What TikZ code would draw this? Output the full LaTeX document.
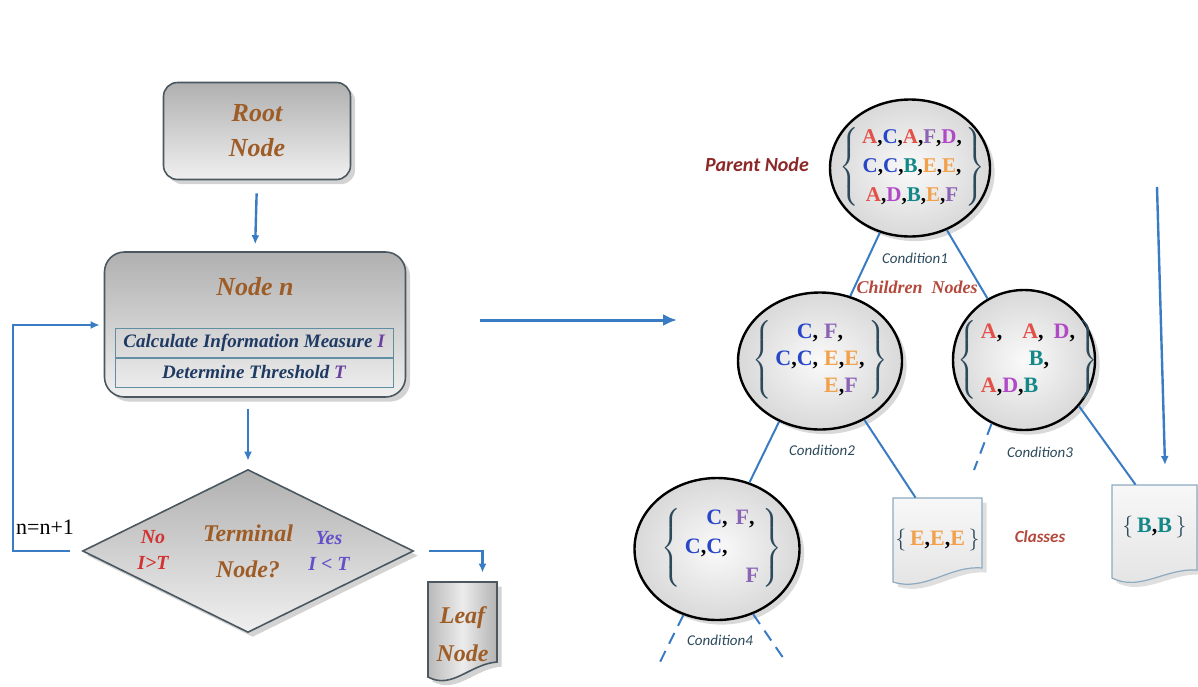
\documentclass[tikz,border=0pt]{standalone}
\usepackage{fontspec}
\setmainfont{Liberation Serif}
\newfontfamily\calfont{Carlito}
\usepackage{amsmath}
\usetikzlibrary{shapes.geometric,shadows,arrows.meta,positioning,calc}

\definecolor{flowblue}{RGB}{58,124,195}
\definecolor{boxedge}{RGB}{75,88,96}
\definecolor{rowedge}{RGB}{95,143,160}
\definecolor{brownt}{RGB}{158,92,38}
\definecolor{navyt}{RGB}{30,58,98}
\definecolor{purplet}{RGB}{106,64,160}
\definecolor{redno}{RGB}{210,50,50}
\definecolor{yesblue}{RGB}{100,80,200}
\definecolor{labred}{RGB}{140,40,40}
\definecolor{condcol}{RGB}{44,74,92}
\definecolor{kidred}{RGB}{180,72,60}
\definecolor{docedge}{RGB}{140,170,192}
\definecolor{clsA}{RGB}{226,80,72}
\definecolor{clsB}{RGB}{20,135,135}
\definecolor{clsC}{RGB}{40,70,200}
\definecolor{clsD}{RGB}{176,72,200}
\definecolor{clsE}{RGB}{242,160,74}
\definecolor{clsF}{RGB}{140,100,180}

\newcommand{\kA}{\textcolor{clsA}{A}}
\newcommand{\kB}{\textcolor{clsB}{B}}
\newcommand{\kC}{\textcolor{clsC}{C}}
\newcommand{\kD}{\textcolor{clsD}{D}}
\newcommand{\kE}{\textcolor{clsE}{E}}
\newcommand{\kF}{\textcolor{clsF}{F}}
\newcommand{\clsset}[1]{{\color{condcol}$\left\{\,\text{\color{black}#1}\,\right\}$}}

\tikzset{
  flowbox/.style={rounded corners=7pt, draw=boxedge, line width=0.8pt,
    top color=gray!62, bottom color=gray!12, drop shadow={opacity=0.35},
    inner sep=0, align=center},
  flowtext/.style={font=\bfseries\itshape\fontsize{13}{17.5}\selectfont,
    text=brownt, align=center, inner sep=0},
  rowbox/.style={draw=rowedge, line width=0.5pt, minimum width=139pt,
    minimum height=15pt, inner sep=0, text=navyt,
    font=\bfseries\itshape\fontsize{9.5}{11}\selectfont},
  decision/.style={diamond, draw=boxedge, line width=0.8pt, top color=gray!62,
    bottom color=gray!12, drop shadow={opacity=0.35}, minimum width=165.5pt,
    minimum height=81.5pt, inner sep=0, align=center, text=brownt,
    font=\bfseries\itshape\fontsize{12}{18}\selectfont},
  choice/.style={align=center, inner sep=0,
    font=\bfseries\itshape\fontsize{10}{13}\selectfont},
  treenode/.style={ellipse, draw=black, line width=1.2pt, inner color=gray!4,
    outer color=gray!30, drop shadow={opacity=0.3}, inner sep=0},
  setbox/.style={inner sep=0, font=\bfseries\fontsize{11}{13.5}\selectfont},
  docshape/.style={draw=docedge, line width=0.6pt, top color=gray!6,
    bottom color=gray!22, drop shadow={opacity=0.25}},
  leafshape/.style={draw=boxedge, line width=0.8pt, left color=gray!55,
    right color=gray!60, middle color=gray!15, drop shadow={opacity=0.35}},
  flow/.style={draw=flowblue, line width=1.2pt, -{Latex[length=4.5pt,width=4pt]}},
  branch/.style={draw=flowblue, line width=1pt},
  cond/.style={font=\calfont\itshape\fontsize{7.5}{9}\selectfont, text=condcol},
  leaftext/.style={inner sep=0, font=\bfseries\fontsize{11}{13}\selectfont}
}

\begin{document}
\begin{tikzpicture}[x=0.5pt,y=-0.5pt]
\useasboundingbox (0,0) rectangle (1198,686);

% flow chart
\node[flowbox, flowtext, minimum width=93.5pt, minimum height=48.5pt] (root) at (257,131) {Root\\Node};
\node[flowbox, rounded corners=10pt, minimum width=150.5pt, minimum height=72.5pt] (noden) at (255,324.5) {};
\node[flowtext] (nodentitle) at (255,287) {Node n};
\node[rowbox] (calc) at (254,343) {Calculate Information Measure \textcolor{purplet}{I}};
\node[rowbox] (thresh) at (254,372) {Determine Threshold \textcolor{purplet}{T}};

\node[decision] (term) at (248,551) {Terminal\\Node?};
\node[choice, text=redno] (nobr) at (153,550) {No\\I>T};
\node[choice, text=yesblue] (yesbr) at (329,551) {Yes\\I < T};
\node[inner sep=0, font=\fontsize{11}{13}\selectfont] (inc) at (45,527) {n=n+1};

\draw[leafshape] (428,582) -- (497,582) -- (497,662) .. controls (470,664) and (452,690) .. (428,677) -- cycle;
\node[flowtext, font=\bfseries\itshape\fontsize{12}{19}\selectfont, minimum width=34.5pt, minimum height=52pt] (leaf) at (462.5,634) {Leaf\\Node};

\draw[flow, shorten <=6.5pt, shorten >=3.5pt] (root.south) -- (noden.north);
\draw[flow, shorten <=5.5pt, shorten >=4pt] (noden.south -| term.north) -- (term.north);
\coordinate (loopbot) at (13,551);
\coordinate (looptop) at (13,325);
\draw[flow, shorten <=6pt, shorten >=2pt] (term.west) -- (loopbot) -- (looptop) -- (looptop -| noden.west);
\draw[flow, shorten <=7.5pt, shorten >=4.5pt] (term.east) -| ([xshift=10pt]leaf.north);

% mapping arrow
\coordinate (mapfrom) at (480,320);
\coordinate (mapto) at (677,320);
\draw[flow, line width=1.5pt, -{Latex[length=7pt,width=6pt]}] (mapfrom) -- (mapto);

% tree
\node[treenode, minimum width=80pt, minimum height=68.5pt] (parent) at (910,168) {};
\node[setbox, font=\bfseries\fontsize{10.5}{14.5}\selectfont] (parentset) at (912,167)
  {\clsset{\begin{tabular}{@{}c@{}}\kA,\kC,\kA,\kF,\kD,\\ \kC,\kC,\kB,\kE,\kE,\\ \kA,\kD,\kB,\kE,\kF\end{tabular}}};
\node[treenode, minimum width=82pt, minimum height=68.5pt] (lchild) at (820,361) {};
\node[setbox] (lchildset) at (820,360)
  {\clsset{\begin{tabular}{@{}l@{}l@{\hspace{3pt}}l@{}l@{}}
   & \kC, & \kF, & \\
   \kC, & \kC, & \kE, & \kE,\\
   & & \kE, & \kF
  \end{tabular}}};
\node[treenode, minimum width=71pt, minimum height=70pt] (rchild) at (1024,360) {};
\node[setbox] (rchildset) at (1028,360)
  {\clsset{\begin{tabular}{@{}l@{}}
   \kA,\hspace{10pt}\kA,\hspace{5pt}\kD,\\
   \hspace{24pt}\kB,\\
   \kA,\kD,\kB
  \end{tabular}}};
\node[treenode, minimum width=82.5pt, minimum height=71pt] (deep) at (717,549) {};
\node[setbox, font=\bfseries\fontsize{11}{14.5}\selectfont] (deepset) at (722,548)
  {\clsset{\begin{tabular}{@{}l@{}l@{\hspace{4pt}}l@{}}
   & \kC, & \kF,\\
   \kC, & \kC, & \\
   & & \hspace{5pt}\kF
  \end{tabular}}};

\draw[docshape] (893,498) -- (982,498) -- (982,568) .. controls (950,565) and (925,592) .. (893,582) -- cycle;
\node[leaftext, minimum width=44.5pt, minimum height=42pt] (leafE) at (937.5,540) {\clsset{\kE,\kE,\kE}};
\draw[docshape] (1112,485) -- (1197,485) -- (1197,570) .. controls (1165,568) and (1140,592) .. (1112,578) -- cycle;
\node[leaftext, minimum width=42.5pt, minimum height=42pt] (leafB) at (1154.5,527) {\clsset{\kB,\kB}};

\draw[branch] (parent) -- (lchild);
\draw[branch] (parent) -- (rchild);
\draw[branch] (lchild.-124) -- (deep.64);
\draw[branch] (lchild.-53) -- ([xshift=-11pt]leafE.north);
\draw[branch] (rchild.-40) -- ([xshift=-9.5pt]leafB.north);
\coordinate (rdash) at (974,470);
\draw[branch, dash pattern=on 6pt off 4pt] (rchild.-117) -- (rdash);
\coordinate (dleft) at (660,662);
\coordinate (dright) at (786,662);
\draw[branch, dash pattern=on 6pt off 4pt] (deep.-117) -- (dleft);
\draw[branch, dash pattern=on 6pt off 4pt] (deep.-61) -- (dright);

\coordinate (sorttop) at (1157,187);
\coordinate (sortbot) at (1165,465);
\draw[flow] (sorttop) -- (sortbot);

% labels
\node[font=\calfont\bfseries\itshape\fontsize{10}{12}\selectfont, text=labred] (parentlab) at (757,165) {Parent Node};
\node[cond] (cond1) at (915,258) {Condition1};
\node[font=\bfseries\itshape\fontsize{9}{11}\selectfont, text=kidred] (kids) at (917,287) {Children\ \ Nodes};
\node[cond] (cond2) at (822,450) {Condition2};
\node[cond] (cond3) at (1040,452) {Condition3};
\node[cond] (cond4) at (720,640) {Condition4};
\node[font=\calfont\bfseries\itshape\fontsize{8.5}{10}\selectfont, text=kidred] (classes) at (1040,537) {Classes};
\end{tikzpicture}
\end{document}
